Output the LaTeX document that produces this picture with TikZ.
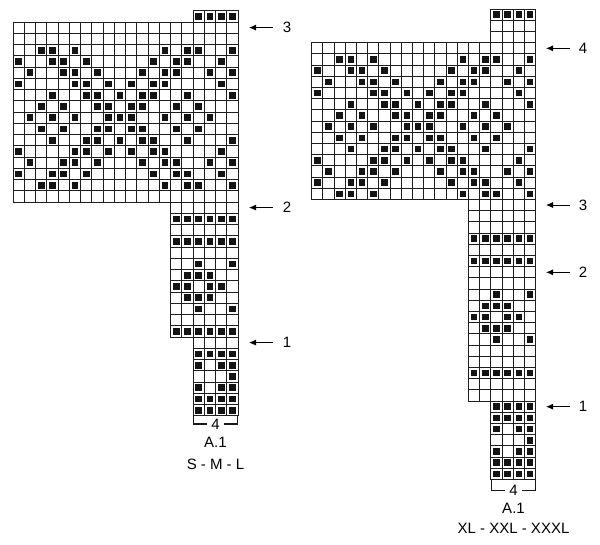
\documentclass[tikz,border=0pt]{standalone}
\usepackage{fontspec}
\setmainfont{Liberation Sans}
\usetikzlibrary{arrows.meta}
\tikzset{
  gridline/.style={line width=0.9pt, draw=black!88, line cap=rect},
  stitch/.style={fill=black!92},
  rowarrow/.style={line width=0.9pt, -{Latex[length=7pt,width=6pt]}},
  lbl/.style={font=\fontsize{15}{17}\selectfont, inner sep=0pt},
  bracketline/.style={line width=1.1pt, draw=black!90},
}
% grid block: columns #1..#2, rows #3..#4 (cell units)
\newcommand\knitgrid[4]{%
  \pgfmathtruncatemacro\kga{#1-1}%
  \pgfmathtruncatemacro\kgb{#3-1}%
  \foreach \i in {\kga,...,#2} {\draw[gridline] (\i,\kgb) -- (\i,#4);}
  \foreach \j in {\kgb,...,#4} {\draw[gridline] (\kga,\j) -- (#2,\j);}
}
\newcommand\stitchrow[2]{%
  \foreach \c in {#2} {\fill[stitch] (\c-0.8,#1-0.8) rectangle (\c-0.2,#1-0.2);}%
}
\newcommand\mainpattern{%
  \stitchrow{3}{3,4,6,14,16,17,20}
  \stitchrow{4}{1,4,5,7,13,15,16,19}
  \stitchrow{5}{2,5,6,8,12,14,15,18,20}
  \stitchrow{6}{1,6,7,9,11,13,14,19}
  \stitchrow{7}{4,7,8,10,12,13,16,20}
  \stitchrow{8}{3,5,8,9,11,12,15,17}
  \stitchrow{9}{2,4,6,9,10,11,14,16,18}
  \stitchrow{10}{3,5,8,9,11,12,15,17}
  \stitchrow{11}{4,7,8,10,12,13,16,20}
  \stitchrow{12}{1,6,7,9,11,13,14,19}
  \stitchrow{13}{2,5,6,8,12,14,15,18,20}
  \stitchrow{14}{1,4,5,7,13,15,16,19}
  \stitchrow{15}{3,4,6,14,16,17,20}
}
\begin{document}
\begin{tikzpicture}[x=1pt,y=-1pt]
\useasboundingbox (0,0) rectangle (600,544);
\fill[white] (0,0) rectangle (600,544);

% ---------------- left chart (S - M - L)
\begin{scope}[shift={(13,22)}, x=11.25pt, y=-11.25pt]
  \stitchrow{0}{17,18,19,20}
  \mainpattern
  \stitchrow{18}{15,16,17,18,19,20}
  \stitchrow{20}{15,16,17,18,19,20}
  \stitchrow{22}{17,20}
  \stitchrow{23}{16,17,18}
  \stitchrow{24}{15,16,18,19}
  \stitchrow{25}{16,17,18}
  \stitchrow{26}{17,20}
  \stitchrow{28}{15,16,17,18,19,20}
  \stitchrow{30}{17,18,19,20}
  \stitchrow{31}{17,19,20}
  \stitchrow{32}{20}
  \stitchrow{33}{17,19,20}
  \stitchrow{34}{17,18,19,20}
  \stitchrow{35}{17,18,19,20}
  \knitgrid{17}{20}{0}{0}
  \knitgrid{1}{20}{1}{16}
  \knitgrid{15}{20}{17}{28}
  \knitgrid{17}{20}{29}{35}
\end{scope}

% ---------------- right chart (XL - XXL - XXXL)
\begin{scope}[shift={(311.7,42.7)}, x=11.2pt, y=-11.2pt]
  \stitchrow{-2}{17,18,19,20}
  \begin{scope}[shift={(0,-1)}]
    \mainpattern
  \end{scope}
  \stitchrow{18}{15,16,17,18,19,20}
  \stitchrow{20}{15,16,17,18,19,20}
  \stitchrow{23}{17,20}
  \stitchrow{24}{16,17,18}
  \stitchrow{25}{15,16,18,19}
  \stitchrow{26}{16,17,18}
  \stitchrow{27}{17,20}
  \stitchrow{30}{15,16,17,18,19,20}
  \stitchrow{33}{17,18,19,20}
  \stitchrow{34}{17,18,19,20}
  \stitchrow{35}{17,19,20}
  \stitchrow{36}{20}
  \stitchrow{37}{17,19,20}
  \stitchrow{38}{17,18,19,20}
  \stitchrow{39}{17,18,19,20}
  \knitgrid{17}{20}{-2}{0}
  \knitgrid{1}{20}{1}{14}
  \knitgrid{15}{20}{15}{32}
  \knitgrid{17}{20}{33}{39}
\end{scope}

% ---------------- row arrows, left
\node[lbl] (L3) at (287,27.6) {3};
\node[lbl] (L2) at (287,207.6) {2};
\node[lbl] (L1) at (287,342.6) {1};
\coordinate (L3s) at (273,27.6);  \coordinate (L3e) at (249,27.6);
\coordinate (L2s) at (273,207.6); \coordinate (L2e) at (249,207.6);
\coordinate (L1s) at (273,342.6); \coordinate (L1e) at (249,342.6);
\draw[rowarrow] (L3s) -- (L3e);
\draw[rowarrow] (L2s) -- (L2e);
\draw[rowarrow] (L1s) -- (L1e);

% ---------------- row arrows, right
\node[lbl] (R4) at (583,48.3) {4};
\node[lbl] (R3) at (583,205) {3};
\node[lbl] (R2) at (583,272.3) {2};
\node[lbl] (R1) at (583,406.7) {1};
\coordinate (R4s) at (570,48.3);  \coordinate (R4e) at (546,48.3);
\coordinate (R3s) at (570,205);   \coordinate (R3e) at (546,205);
\coordinate (R2s) at (570,272.3); \coordinate (R2e) at (546,272.3);
\coordinate (R1s) at (570,406.7); \coordinate (R1e) at (546,406.7);
\draw[rowarrow] (R4s) -- (R4e);
\draw[rowarrow] (R3s) -- (R3e);
\draw[rowarrow] (R2s) -- (R2e);
\draw[rowarrow] (R1s) -- (R1e);

% ---------------- captions, left
\node[lbl] (Lw) at (215.5,424) {4};
\node[lbl] (La) at (215.5,442.5) {A.1};
\node[lbl] (Ls) at (215.5,464) {S - M - L};
\coordinate (Lb1) at (193.5,416); \coordinate (Lb2) at (193.5,424);
\coordinate (Lb3) at (237.5,416); \coordinate (Lb4) at (237.5,424);
\draw[bracketline] (Lb1) -- (Lb2) -- ([xshift=-4pt]Lw.west |- Lb2);
\draw[bracketline] (Lb3) -- (Lb4) -- ([xshift=4pt]Lw.east |- Lb4);

% ---------------- captions, right
\node[lbl] (Rw) at (513.5,490.5) {4};
\node[lbl] (Ra) at (513.5,508) {A.1};
\node[lbl] (Rs) at (513.5,528) {XL - XXL - XXXL};
\coordinate (Rb1) at (491.5,479.5); \coordinate (Rb2) at (491.5,490.5);
\coordinate (Rb3) at (535.5,479.5); \coordinate (Rb4) at (535.5,490.5);
\draw[bracketline] (Rb1) -- (Rb2) -- ([xshift=-4pt]Rw.west |- Rb2);
\draw[bracketline] (Rb3) -- (Rb4) -- ([xshift=4pt]Rw.east |- Rb4);
\end{tikzpicture}
\end{document}
